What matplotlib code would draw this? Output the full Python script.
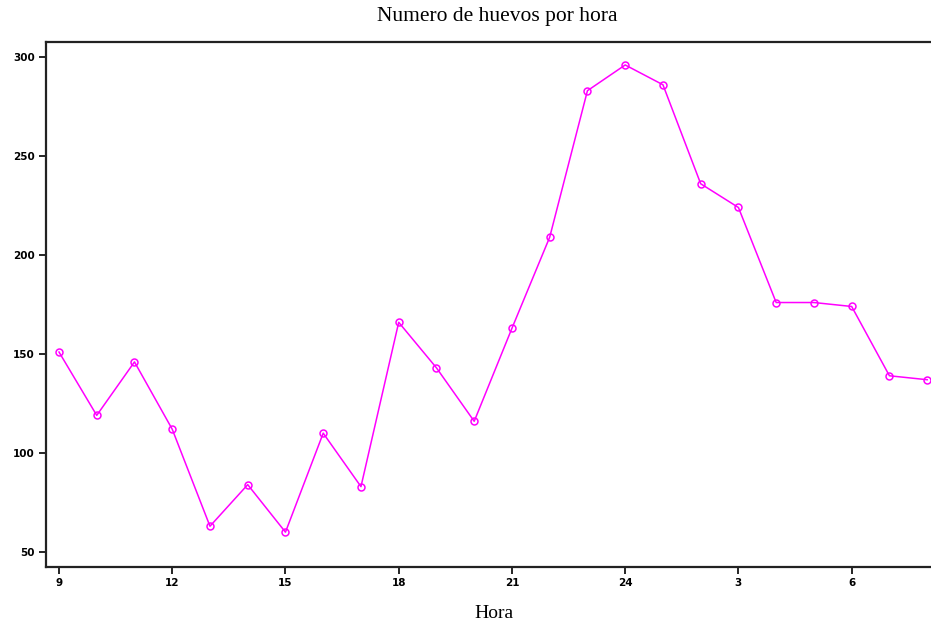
import matplotlib
matplotlib.use('Agg')
import matplotlib.pyplot as plt

# Horas (9 de la mañana hasta las 8 del día siguiente)
horas = list(range(9, 33))
huevos = [151, 119, 146, 112, 63, 84, 60, 110, 83, 166, 143, 116,
          163, 209, 283, 296, 286, 236, 224, 176, 176, 174, 139, 137]

tick_pos = [9, 12, 15, 18, 21, 24, 27, 30]
tick_lab = ['9', '12', '15', '18', '21', '24', '3', '6']
yticks = [50, 100, 150, 200, 250, 300]

W, H = 931, 626
fig = plt.figure(figsize=(W / 100, H / 100), dpi=100)
ax = fig.add_axes([46 / W, (H - 567) / H, (940 - 46) / W, (567 - 42) / H])

ax.plot(horas, huevos, color='#ff00ff', linewidth=1.1, marker='o',
        markersize=5, markerfacecolor='none', markeredgecolor='#ff00ff',
        markeredgewidth=1.1)

ax.set_xlim(8.656, 32.34)
ax.set_ylim(42.4, 307.6)
ax.set_xticks(tick_pos)
ax.set_xticklabels(tick_lab)
ax.set_yticks(yticks)

for s in ax.spines.values():
    s.set_linewidth(1.6)
    s.set_color('#222222')
ax.tick_params(direction='out', length=5, width=1.2, labelsize=7.5, pad=3)
for lab in ax.get_xticklabels() + ax.get_yticklabels():
    lab.set_fontweight('semibold')

fig.text(497 / W, 1 - 17 / H, 'Numero de huevos por hora', ha='center', va='center',
         family='Liberation Serif', fontsize=15.5)
fig.text(494 / W, 1 - 613 / H, 'Hora', ha='center', va='center',
         family='Liberation Serif', fontsize=14)

fig.savefig('out.png', dpi=100)
